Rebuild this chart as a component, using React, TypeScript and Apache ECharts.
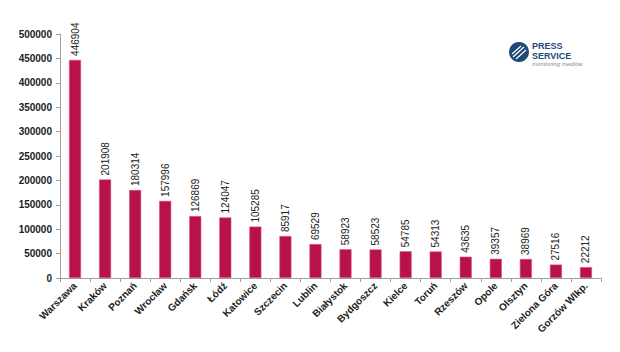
import React, { useEffect, useRef } from "react";
import * as echarts from "echarts";

const categories = [
  "Warszawa", "Kraków", "Poznań", "Wrocław", "Gdańsk", "Łódź", "Katowice", "Szczecin", "Lublin",
  "Białystok", "Bydgoszcz", "Kielce", "Toruń", "Rzeszów", "Opole", "Olsztyn", "Zielona Góra", "Gorzów Wlkp.",
];
const values = [
  446904, 201908, 180314, 157996, 126869, 124047, 105285, 85917, 69529,
  58923, 58523, 54785, 54313, 43635, 39357, 38969, 27516, 22212,
];

export default function App() {
  const ref = useRef<HTMLDivElement>(null);
  useEffect(() => {
    if (!ref.current) return;
    const chart = echarts.init(ref.current, null, { renderer: "svg" });
    chart.setOption({
      animation: false,
      backgroundColor: "#ffffff",
      grid: { left: 60, right: 19, top: 34, bottom: 74 },
      xAxis: {
        type: "category",
        data: categories,
        axisLine: { lineStyle: { color: "#a0a0a0" } },
        axisTick: { show: true, alignWithLabel: false, length: 4, lineStyle: { color: "#a0a0a0" } },
        axisLabel: {
          rotate: 45,
          interval: 0,
          color: "#222",
          fontWeight: "bold",
          fontFamily: "Liberation Sans, Arial",
          fontSize: 10,
          margin: 6,
        },
      },
      yAxis: {
        type: "value",
        min: 0,
        max: 500000,
        interval: 50000,
        axisLine: { show: true, lineStyle: { color: "#a0a0a0" } },
        axisTick: { show: true, length: 4, lineStyle: { color: "#a0a0a0" } },
        splitLine: { show: false },
        axisLabel: {
          color: "#222",
          fontWeight: "bold",
          fontFamily: "Liberation Sans, Arial",
          fontSize: 10,
          margin: 8,
          formatter: (v: number) => String(v),
        },
      },
      series: [
        {
          type: "bar",
          data: values,
          barWidth: 12,
          itemStyle: { color: "#B8124A", borderColor: "#D9507E", borderWidth: 0.6 },
          label: {
            show: true,
            position: "top",
            rotate: 90,
            align: "left",
            verticalAlign: "middle",
            distance: 4,
            color: "#222",
            fontFamily: "Liberation Sans, Arial",
            fontSize: 10,
          },
        },
      ],
      graphic: [
        {
          type: "group",
          left: 509,
          top: 41,
          children: [
            { type: "circle", shape: { cx: 10, cy: 11, r: 10 }, style: { fill: "#1F4A78" } },
            { type: "line", shape: { x1: 3, y1: 13, x2: 12, y2: 5 }, style: { stroke: "#fff", lineWidth: 1.2 } },
            { type: "line", shape: { x1: 4, y1: 16, x2: 15, y2: 6 }, style: { stroke: "#fff", lineWidth: 1.2 } },
            { type: "line", shape: { x1: 7, y1: 18, x2: 17, y2: 9 }, style: { stroke: "#fff", lineWidth: 1.2 } },
            {
              type: "text",
              x: 23,
              y: 0,
              style: { text: "PRESS", fill: "#1F4A78", font: "bold 9px Liberation Sans, Arial", verticalAlign: "top" },
            },
            {
              type: "text",
              x: 23,
              y: 10,
              style: { text: "SERVICE", fill: "#1F4A78", font: "bold 9px Liberation Sans, Arial", verticalAlign: "top" },
            },
            {
              type: "text",
              x: 23,
              y: 20,
              style: { text: "monitoring mediów", fill: "#7a8aa0", font: "italic 6px Liberation Sans, Arial", verticalAlign: "top" },
            },
          ],
        },
      ],
    });
    return () => chart.dispose();
  }, []);
  return <div ref={ref} style={{ width: 620, height: 352, position: "absolute", left: 0, top: 0 }} />;
}
